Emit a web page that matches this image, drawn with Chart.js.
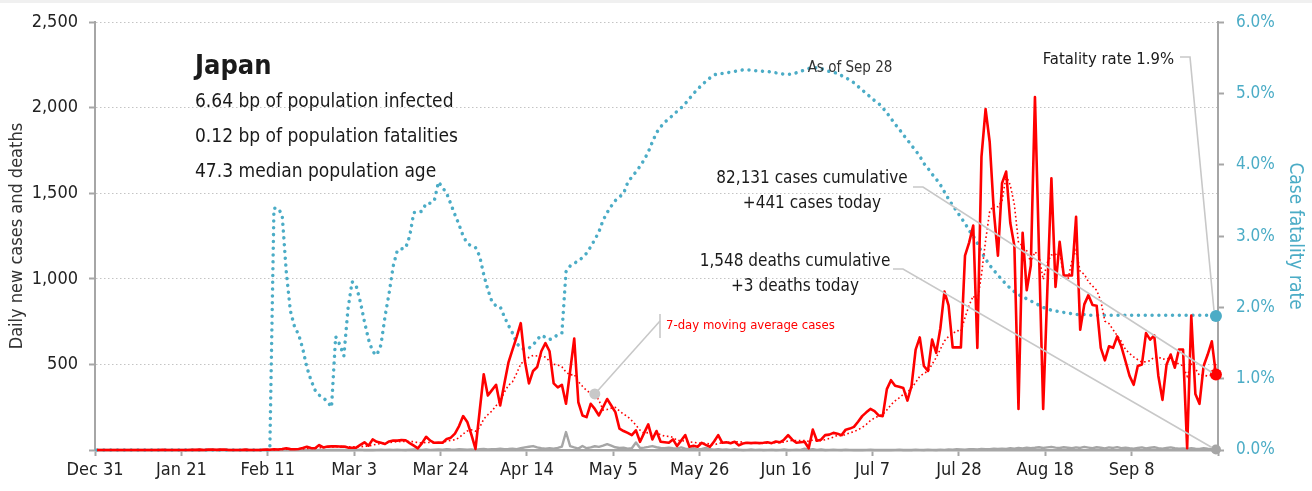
<!DOCTYPE html>
<html lang="en">
<head>
  <meta charset="UTF-8">
  <title>Japan - daily cases, deaths and case fatality rate</title>
  <script src="https://cdn.jsdelivr.net/npm/chart.js"></script>
  <style>
    body {
      margin: 0;
      background: #fff;
    }
    .wrap {
      position: relative;
      width: 1312px;
      height: 491px;
    }
  </style>
</head>
<body>
  <div class="wrap"><canvas id="chart"></canvas></div>

  <script>
    // one value per day, day 0 = Dec 31, last day = Sep 28
    const tickLabels = ['Dec 31', 'Jan 21', 'Feb 11', 'Mar 3', 'Mar 24', 'Apr 14', 'May 5',
                        'May 26', 'Jun 16', 'Jul 7', 'Jul 28', 'Aug 18', 'Sep 8'];

    const cases = [
      0, 0, 0, 0, 0, 0, 0, 0, 0, 0,
      0, 0, 0, 0, 0, 0, 1, 0, 0, 0,
      0, 0, 0, 1, 1, 2, 0, 2, 3, 1,
      2, 3, 0, 0, 0, 0, 2, 0, 0, 0,
      1, 3, 1, 4, 3, 6, 10, 5, 4, 6,
      12, 19, 12, 10, 29, 15, 20, 21, 22, 20,
      20, 14, 13, 14, 30, 45, 25, 62, 48, 42,
      35, 50, 55, 55, 58, 57, 40, 25, 10, 40,
      77, 55, 42, 44, 42, 65, 72, 96, 140, 198,
      164, 90, 6, 225, 443, 318, 350, 381, 260, 385,
      510, 587, 660, 741, 520, 389, 462, 485, 577, 625,
      577, 389, 366, 381, 270, 460, 651, 279, 202, 192,
      270, 240, 202, 250, 298, 260, 221, 125, 111, 100,
      87, 115, 48, 100, 150, 62, 111, 48, 45, 42,
      62, 23, 55, 87, 19, 25, 19, 42, 30, 19,
      50, 87, 42, 45, 40, 48, 27, 38, 42, 40,
      42, 40, 42, 45, 40, 50, 45, 60, 87, 60,
      42, 45, 48, 10, 119, 54, 60, 87, 90, 100,
      95, 87, 119, 125, 135, 165, 198, 220, 240, 227,
      202, 198, 356, 408, 375, 370, 362, 289, 375, 587,
      658, 491, 462, 645, 568, 710, 926, 845, 600, 600,
      600, 1136, 1212, 1312, 597, 1713, 1992, 1800, 1396, 1136,
      1559, 1627, 1328, 1193, 240, 1270, 934, 1078, 2063, 1150,
      240, 924, 1588, 953, 1217, 1020, 1020, 1020, 1363, 703,
      851, 905, 847, 843, 597, 524, 606, 597, 664, 606,
      520, 433, 381, 491, 500, 683, 645, 670, 433, 293,
      500, 558, 481, 587, 587, 10, 785, 327, 270, 491,
      558, 635, 441
    ];

    const deaths = [
      0, 0, 0, 0, 0, 0, 0, 0, 0, 0,
      0, 0, 0, 0, 0, 0, 0, 0, 0, 0,
      0, 0, 0, 0, 0, 0, 0, 0, 0, 0,
      0, 0, 0, 0, 0, 0, 0, 0, 0, 0,
      0, 0, 0, 1, 0, 0, 0, 1, 0, 0,
      1, 0, 1, 0, 1, 0, 1, 0, 0, 1,
      0, 1, 0, 1, 2, 0, 1, 0, 1, 2,
      1, 2, 1, 2, 1, 0, 2, 3, 2, 1,
      3, 1, 2, 3, 2, 5, 3, 2, 4, 3,
      2, 3, 1, 4, 6, 3, 5, 4, 7, 5,
      6, 8, 5, 10, 15, 19, 23, 15, 10, 8,
      10, 8, 12, 20, 105, 23, 15, 8, 23, 10,
      15, 22, 18, 25, 34, 25, 16, 12, 14, 8,
      10, 44, 12, 14, 18, 23, 16, 12, 10, 14,
      10, 8, 15, 8, 5, 10, 3, 6, 12, 4,
      2, 5, 2, 3, 1, 4, 2, 0, 1, 3,
      1, 2, 0, 1, 2, 0, 1, 3, 0, 1,
      2, 1, 8, 2, 5, 1, 3, 0, 1, 2,
      1, 0, 2, 1, 0, 1, 0, 1, 2, 0,
      1, 0, 1, 0, 1, 2, 0, 1, 0, 2,
      1, 0, 2, 1, 0, 2, 1, 3, 2, 4,
      3, 2, 4, 5, 3, 6, 4, 5, 7, 6,
      8, 6, 10, 8, 12, 9, 14, 11, 13, 16,
      12, 15, 18, 14, 12, 16, 13, 10, 15, 12,
      18, 14, 10, 16, 13, 9, 15, 12, 17, 11,
      14, 10, 8, 12, 15, 9, 13, 16, 11, 8,
      12, 15, 10, 7, 9, 6, 11, 8, 6, 10,
      7, 5, 3
    ];

    // case fatality rate, %
    const fatalityRate = [
      0, 0, 0, 0, 0, 0, 0, 0, 0, 0,
      0, 0, 0, 0, 0, 0, 0, 0, 0, 0,
      0, 0, 0, 0, 0, 0, 0, 0, 0, 0,
      0, 0, 0, 0, 0, 0, 0, 0, 0, 0,
      0, 0, 0, 3.39, 3.39, 3.30, 2.50, 1.95, 1.73, 1.62,
      1.42, 1.16, 0.98, 0.84, 0.77, 0.73, 0.68, 0.60, 1.59, 1.48,
      1.32, 1.98, 2.36, 2.30, 2.08, 1.80, 1.55, 1.38, 1.33, 1.47,
      1.87, 2.20, 2.58, 2.80, 2.82, 2.83, 3.00, 3.33, 3.33, 3.35,
      3.46, 3.46, 3.50, 3.76, 3.68, 3.60, 3.45, 3.30, 3.16, 3.00,
      2.90, 2.86, 2.84, 2.72, 2.46, 2.25, 2.08, 2.02, 2.01, 1.87,
      1.75, 1.64, 1.50, 1.43, 1.41, 1.43, 1.47, 1.55, 1.61, 1.58,
      1.55, 1.57, 1.62, 1.64, 2.50, 2.58, 2.62, 2.65, 2.70, 2.76,
      2.85, 2.95, 3.06, 3.22, 3.33, 3.42, 3.50, 3.55, 3.60, 3.75,
      3.83, 3.90, 3.98, 4.07, 4.18, 4.32, 4.45, 4.53, 4.60, 4.64,
      4.70, 4.75, 4.80, 4.86, 4.93, 5.00, 5.06, 5.12, 5.17, 5.22,
      5.26, 5.28, 5.28, 5.29, 5.30, 5.31, 5.32, 5.33, 5.33, 5.33,
      5.32, 5.32, 5.31, 5.31, 5.30, 5.29, 5.28, 5.27, 5.27, 5.27,
      5.29, 5.31, 5.33, 5.35, 5.36, 5.36, 5.35, 5.33, 5.31, 5.30,
      5.28, 5.25, 5.22, 5.19, 5.15, 5.10, 5.05, 5.00, 4.95, 4.90,
      4.86, 4.80, 4.73, 4.65, 4.57, 4.50, 4.42, 4.35, 4.27, 4.20,
      4.12, 4.02, 3.95, 3.87, 3.80, 3.72, 3.62, 3.52, 3.43, 3.35,
      3.26, 3.18, 3.08, 3.00, 2.90, 2.78, 2.68, 2.59, 2.52, 2.45,
      2.39, 2.32, 2.27, 2.22, 2.18, 2.15, 2.12, 2.09, 2.06, 2.03,
      2.00, 1.98, 1.96, 1.95, 1.94, 1.93, 1.92, 1.91, 1.90, 1.90,
      1.90, 1.89, 1.89, 1.89, 1.89, 1.89, 1.89, 1.89, 1.89, 1.89,
      1.89, 1.89, 1.89, 1.89, 1.89, 1.89, 1.89, 1.89, 1.89, 1.89,
      1.89, 1.89, 1.89, 1.89, 1.89, 1.89, 1.89, 1.89, 1.89, 1.89,
      1.89, 1.89, 1.88
    ];

    const infoLines = ['6.64 bp of population infected', '0.12 bp of population fatalities', '47.3 median population age'];
    const casesNote = ['82,131 cases cumulative', '+441 cases today'];
    const deathsNote = ['1,548 deaths cumulative', '+3 deaths today'];
    const maLabelDay = 121;

    const FONT = "'Liberation Sans Narrow', 'DejaVu Sans Condensed', 'Arial Narrow', sans-serif";
    const RED = '#ff0000';
    const TEAL = '#4bacc6';
    const GREY = '#a6a6a6';
    const LEADER = '#c8c8c8';
    const last = cases.length - 1;

    // trailing 7-day average of the daily cases
    const movingAvg = cases.map((v, i) => {
      const win = cases.slice(Math.max(0, i - 6), i + 1);
      return win.reduce((a, b) => a + b, 0) / win.length;
    });

    // points sit in the middle of their day
    const toXY = arr => arr.map((v, i) => ({x: i + 0.5, y: v}));
    const endOnly = (r) => cases.map((v, i) => i === last ? r : 0);

    const annotate = {
      id: 'annotate',
      beforeDraw(chart) {
        const ctx = chart.ctx;
        ctx.save();
        ctx.fillStyle = '#f0f0f0';
        ctx.fillRect(0, 0, chart.width, 3);
        ctx.restore();
      },
      afterDatasetsDraw(chart) {
        const {ctx, scales: {x, y, y1}} = chart;
        const lx = x.getPixelForValue(last + 0.5);

        ctx.save();
        ctx.strokeStyle = LEADER;
        ctx.lineWidth = 1.6;

        const leader = (pts) => {
          ctx.beginPath();
          ctx.moveTo(pts[0][0], pts[0][1]);
          pts.slice(1).forEach(p => ctx.lineTo(p[0], p[1]));
          ctx.stroke();
        };
        leader([[913, 187], [923, 187], [lx - 4, y.getPixelForValue(cases[last]) - 2]]);
        leader([[893, 269], [903, 269], [lx - 4, y.getPixelForValue(deaths[last]) - 2]]);
        leader([[1180, 57], [1190, 57], [lx - 2, y1.getPixelForValue(fatalityRate[last]) - 6]]);
        leader([[x.getPixelForValue(maLabelDay + 0.5), y.getPixelForValue(movingAvg[maLabelDay])], [660, 321]]);
        leader([[660, 314], [660, 338]]);

        ctx.fillStyle = '#1a1a1a';
        ctx.textBaseline = 'alphabetic';
        ctx.textAlign = 'left';
        ctx.font = 'bold 27px ' + FONT;
        ctx.fillText('Japan', 195, 74);
        ctx.font = '19px ' + FONT;
        infoLines.forEach((t, i) => ctx.fillText(t, 195, 107 + i * 35));

        ctx.textAlign = 'center';
        ctx.font = '17px ' + FONT;
        casesNote.forEach((t, i) => ctx.fillText(t, 812, 183 + i * 25));
        deathsNote.forEach((t, i) => ctx.fillText(t, 795, 266 + i * 25));

        ctx.textAlign = 'right';
        ctx.font = '16.5px ' + FONT;
        ctx.fillText('Fatality rate 1.9%', 1174, 64);

        ctx.textAlign = 'center';
        ctx.font = '15px ' + FONT;
        ctx.fillStyle = '#333';
        ctx.fillText('As of Sep 28', 850, 72);

        ctx.textAlign = 'left';
        ctx.font = '13px ' + FONT;
        ctx.fillStyle = RED;
        ctx.fillText('7-day moving average cases', 666, 329);
        ctx.restore();
      }
    };

    new Chart(document.getElementById('chart'), {
      type: 'line',
      data: {
        datasets: [
          {
            label: 'Daily new cases',
            data: toXY(cases),
            yAxisID: 'y',
            borderColor: RED,
            borderWidth: 2.6,
            borderJoinStyle: 'round',
            pointRadius: endOnly(6),
            pointBackgroundColor: RED,
            pointBorderWidth: 0,
            clip: false
          },
          {
            label: '7-day moving average cases',
            data: toXY(movingAvg),
            yAxisID: 'y',
            borderColor: RED,
            borderWidth: 1.6,
            borderDash: [1.6, 2.6],
            pointRadius: cases.map((v, i) => i === maLabelDay ? 5.5 : 0),
            pointBackgroundColor: LEADER,
            pointBorderWidth: 0,
            clip: false
          },
          {
            label: 'Daily new deaths',
            data: toXY(deaths),
            yAxisID: 'y',
            borderColor: GREY,
            borderWidth: 2.4,
            borderJoinStyle: 'round',
            pointRadius: endOnly(5),
            pointBackgroundColor: GREY,
            pointBorderWidth: 0,
            clip: false
          },
          {
            label: 'Case fatality rate',
            data: toXY(fatalityRate),
            yAxisID: 'y1',
            borderColor: TEAL,
            borderWidth: 3.5,
            borderDash: [0.01, 6.8],
            borderCapStyle: 'round',
            pointRadius: endOnly(6),
            pointBackgroundColor: TEAL,
            pointBorderWidth: 0,
            clip: false
          }
        ]
      },
      options: {
        responsive: true,
        maintainAspectRatio: false,
        devicePixelRatio: 1,
        animation: false,
        layout: {padding: {top: 17, left: 0, right: 0, bottom: 0}},
        plugins: {
          legend: {display: false},
          tooltip: {enabled: false}
        },
        scales: {
          x: {
            type: 'linear',
            min: 0,
            max: 273,
            afterFit: s => { s.height = 41; },
            ticks: {
              stepSize: 21,
              autoSkip: false,
              maxRotation: 0,
              padding: 4,
              color: '#222',
              font: {family: FONT, size: 18},
              callback: v => tickLabels[v / 21] || ''
            },
            grid: {
              drawOnChartArea: false,
              tickLength: 6,
              tickWidth: 2,
              tickColor: GREY
            },
            border: {color: GREY, width: 2.5}
          },
          y: {
            position: 'left',
            min: 0,
            max: 2500,
            afterFit: s => { s.width = 95; },
            ticks: {
              stepSize: 500,
              padding: 11,
              color: '#222',
              font: {family: FONT, size: 18},
              callback: v => v === 0 ? '' : v.toLocaleString('en-US')
            },
            grid: {
              color: '#c4c4c4',
              lineWidth: 1,
              tickLength: 6,
              tickWidth: 2,
              tickColor: GREY,
              tickBorderDash: []
            },
            border: {color: GREY, width: 2, dash: [1.5, 2.5]},
            title: {
              display: true,
              text: 'Daily new cases and deaths',
              color: '#333',
              font: {family: FONT, size: 18},
              padding: {top: 7, bottom: 0}
            }
          },
          y1: {
            position: 'right',
            min: 0,
            max: 6,
            afterFit: s => { s.width = 94; },
            ticks: {
              stepSize: 1,
              padding: 12,
              color: TEAL,
              font: {family: FONT, size: 17},
              callback: v => v.toFixed(1) + '%'
            },
            grid: {
              drawOnChartArea: false,
              tickLength: 6,
              tickWidth: 2,
              tickColor: GREY
            },
            border: {color: GREY, width: 2},
            title: {
              display: true,
              text: 'Case fatality rate',
              color: TEAL,
              font: {family: FONT, size: 19},
              padding: {top: 6, bottom: 0}
            }
          }
        }
      },
      plugins: [annotate]
    });
  </script>
</body>
</html>
